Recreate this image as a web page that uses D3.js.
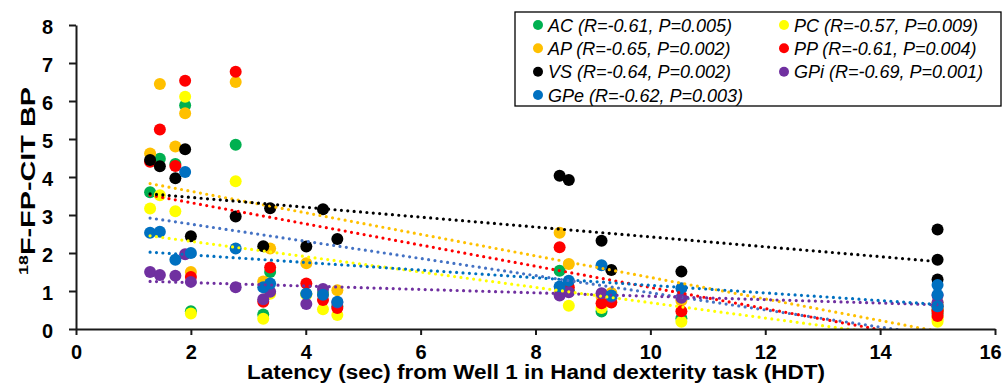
<!DOCTYPE html>
<html>
<head>
<meta charset="utf-8">
<script src="https://cdn.jsdelivr.net/npm/d3@7"></script>
<style>
  html, body { margin: 0; padding: 0; background: #fff; }
  svg { display: block; }
  text { font-family: "Liberation Sans", Arial, sans-serif; }
</style>
</head>
<body>
<svg id="chart" width="1003" height="383"></svg>
<script>
// ---- data ----
const latency = [1.29, 1.46, 1.73, 1.90, 2.00, 2.78, 3.26, 3.38, 4.01, 4.30, 4.55, 8.42, 8.58, 9.15, 9.32, 10.54, 15, 15, 15];
const AC  = [3.60, 4.48, 4.34, 5.89, 0.47, 4.85, 0.38, 1.50, 0.92, 0.95, 0.60, 1.53, 1.00, 0.46, 0.80, 0.28, 0.60, 0.40, 0.50];
const PC  = [3.17, 3.52, 3.10, 6.11, 0.41, 3.89, 0.27, 0.93, 0.90, 0.52, 0.37, 0.95, 0.61, 0.55, 0.72, 0.19, 0.25, 0.19, 0.30];
const AP  = [4.62, 6.45, 4.80, 5.68, 1.50, 6.50, 1.25, 2.12, 1.73, 0.90, 1.02, 2.53, 1.71, 0.85, 0.95, 0.75, 0.70, 0.50, 0.60];
const PP  = [4.40, 5.25, 4.29, 6.53, 1.37, 6.77, 0.72, 1.62, 1.20, 0.76, 0.55, 2.15, 1.10, 0.68, 0.70, 0.47, 0.50, 0.34, 0.45];
const VS  = [4.45, 4.28, 3.97, 4.73, 2.44, 2.96, 2.18, 3.18, 2.17, 3.15, 2.37, 4.03, 3.92, 2.32, 1.55, 1.51, 2.62, 1.82, 1.30];
const GPi = [1.50, 1.42, 1.40, 1.97, 1.24, 1.10, 0.78, 0.98, 0.66, 1.05, 0.70, 0.88, 0.97, 0.94, 0.85, 0.82, 0.89, 0.70, 0.60];
const GPe = [2.53, 2.56, 1.82, 4.13, 2.00, 2.12, 1.10, 1.20, 0.93, 0.90, 0.72, 1.12, 1.27, 1.68, 0.88, 1.07, 1.16, 0.60, 0.90];

const seriesNames = ["AC", "PC", "AP", "PP", "VS", "GPi", "GPe"];
const seriesStats = ["(R=-0.61, P=0.005)", "(R=-0.57, P=0.009)", "(R=-0.65, P=0.002)", "(R=-0.61, P=0.004)",
                     "(R=-0.64, P=0.002)", "(R=-0.69, P=0.001)", "(R=-0.62, P=0.003)"];
const xTicks = [0, 2, 4, 6, 8, 10, 12, 14, 16];
const yTicks = [0, 1, 2, 3, 4, 5, 6, 7, 8];
const xTitle = "Latency (sec) from Well 1 in Hand dexterity task (HDT)";

// ---- styling ----
const markerColors = ["#00B050", "#FFFF00", "#FFC000", "#FF0000", "#000000", "#7030A0", "#0070C0"];
const trendColors  = ["#4472C4", "#FFFF00", "#FFC000", "#FF0000", "#000000", "#7030A0", "#0070C0"];
const seriesValues = [AC, PC, AP, PP, VS, GPi, GPe];

const svg = d3.select("#chart");
const x = d3.scaleLinear().domain([0, 16]).range([76, 995]);
const y = d3.scaleLinear().domain([0, 8]).range([329, 25]);

svg.append("defs").append("clipPath").attr("id", "plotclip")
  .append("rect").attr("x", 76).attr("y", 25).attr("width", 995 - 76).attr("height", 329 - 25);

const series = seriesNames.map((n, i) => ({
  name: n, stat: seriesStats[i], color: markerColors[i], tcolor: trendColors[i],
  pts: latency.map((lx, j) => ({x: lx, y: seriesValues[i][j]}))
}));

// markers
const gm = svg.append("g");
series.forEach(s => {
  gm.append("g").selectAll("circle").data(s.pts).join("circle")
    .attr("cx", d => x(d.x)).attr("cy", d => y(d.y)).attr("r", 6)
    .attr("fill", s.color);
});

// linear trendlines (least squares), dotted, drawn on top
function fit(pts) {
  const mx = d3.mean(pts, d => d.x), my = d3.mean(pts, d => d.y);
  const sxy = d3.sum(pts, d => (d.x - mx) * (d.y - my));
  const sxx = d3.sum(pts, d => (d.x - mx) ** 2);
  const b = sxy / sxx, a = my - b * mx;
  return xv => a + b * xv;
}
const gt = svg.append("g").attr("clip-path", "url(#plotclip)");
series.forEach(s => {
  const f = fit(s.pts);
  const [x0, x1] = d3.extent(s.pts, d => d.x);
  gt.append("line")
    .attr("x1", x(x0)).attr("y1", y(f(x0)))
    .attr("x2", x(x1)).attr("y2", y(f(x1)))
    .attr("stroke", s.tcolor).attr("stroke-width", 3.2)
    .attr("stroke-linecap", "round").attr("stroke-dasharray", "0 6.4");
});

// axes
const xAxis = svg.append("g").attr("transform", "translate(0,329)")
  .call(d3.axisBottom(x).tickValues(xTicks).tickSize(6).tickSizeOuter(0).tickPadding(10));
const yAxis = svg.append("g").attr("transform", "translate(76,0)")
  .call(d3.axisLeft(y).tickValues(yTicks).tickSize(7).tickSizeOuter(0).tickPadding(16));
[xAxis, yAxis].forEach(g => {
  g.select(".domain").attr("stroke", "#1a1a1a").attr("stroke-width", 2);
  g.selectAll(".tick line").attr("stroke", "#1a1a1a").attr("stroke-width", 2);
  g.selectAll(".tick text").attr("font-family", "'Liberation Sans', Arial, sans-serif")
    .attr("font-size", 20).attr("font-weight", "bold").attr("fill", "#000");
});
yAxis.selectAll(".tick text").attr("dy", "0.42em");
xAxis.selectAll(".tick text").filter(d => d === 16).attr("x", -5);

// axis titles
svg.append("text").attr("x", 536).attr("y", 379).attr("text-anchor", "middle")
  .attr("font-size", 20).attr("font-weight", "bold")
  .attr("textLength", 578).attr("lengthAdjust", "spacingAndGlyphs").text(xTitle);

// y title: stretched along its baseline, like the reference
const ytg = svg.append("g");
const yt = ytg.append("text").attr("text-anchor", "middle")
  .attr("font-size", 21).attr("font-weight", "bold");
yt.append("tspan").attr("font-size", 13).attr("dy", "-7").text("18");
yt.append("tspan").attr("dy", "7").text("F-FP-CIT BP");
const natural = yt.node().getComputedTextLength() || 139;
const sx = 188 / natural;
ytg.attr("transform", `translate(35,181) rotate(-90) scale(${sx},1)`);

// legend
const lg = svg.append("g");
lg.append("rect").attr("x", 515).attr("y", 12).attr("width", 486).attr("height", 94)
  .attr("fill", "#fff").attr("stroke", "#000").attr("stroke-width", 1.3);
const rowY = [25, 48.3, 71.7, 95];
series.forEach((s, i) => {
  const col = i % 2, row = Math.floor(i / 2);
  const mx = col === 0 ? 538 : 784;
  const ry = rowY[row];
  lg.append("circle").attr("cx", mx).attr("cy", ry).attr("r", 5).attr("fill", s.color);
  lg.append("text").attr("x", mx + 10).attr("y", ry + 6.5)
    .attr("font-size", 18).attr("font-style", "italic").text(s.name + " " + s.stat);
});
</script>
</body>
</html>
